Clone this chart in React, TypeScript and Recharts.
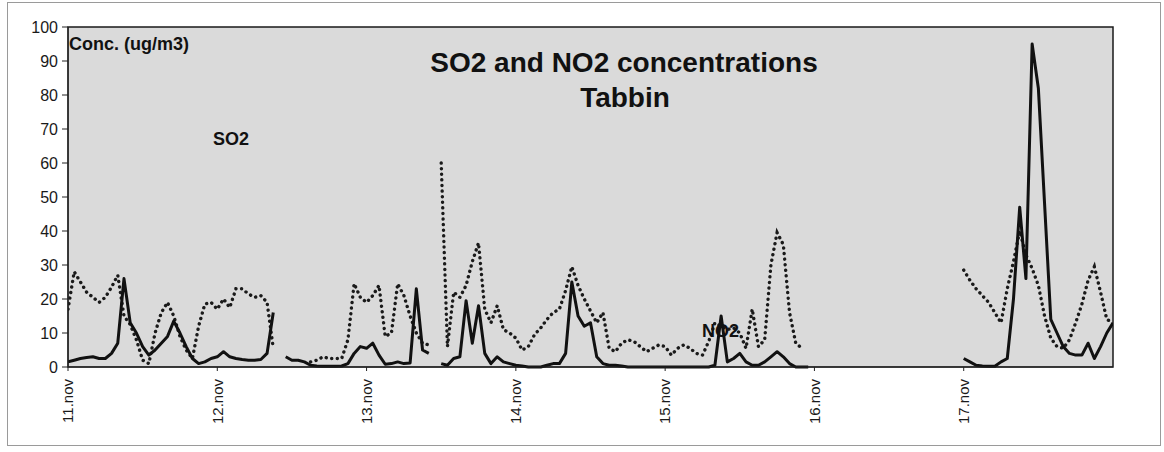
import {
  LineChart,
  Line,
  XAxis,
  YAxis,
  CartesianGrid,
  ReferenceArea,
} from "recharts";

// hourly readings, 11.nov 00:00 .. 18.nov 00:00 (null = no measurement)
const so2 = [
  1.5, 2, 2.5, 2.8, 3, 2.5, 2.5, 4, 7, 26, 13, 10, 6, 3.5, 5, 7, 9, 13.5, 10, 6, 2.5, 1, 1.5, 2.5,
  3, 4.5, 3, 2.5, 2.2, 2, 2, 2.2, 4, 16, null, 3, 2, 2, 1.5, 0.5, 0.3, 0.2, 0.2, 0.2, 0.3, 1, 4, 6,
  5.5, 7, 3.5, 0.8, 1, 1.5, 1, 1.2, 23, 5, 4, null, 1, 0.5, 2.5, 3, 19.5, 7, 18, 4, 1, 3, 1.5, 1,
  0.5, 0.3, 0, 0, 0, 0.5, 1, 1, 4, 25, 15, 12, 13, 3, 1, 0.5, 0.5, 0.3, 0, 0, 0, 0, 0, 0,
  0, 0, 0, 0, 0, 0, 0, 0, 0.5, 15, 1.5, 2.5, 4, 1.5, 0.5, 0.5, 1.5, 3, 4.5, 3, 1, 0, 0, 0,
  null, null, null, null, null, null, null, null, null, null, null, null,
  null, null, null, null, null, null, null, null, null, null, null, null,
  2.5, 1.5, 0.5, 0.3, 0.2, 0.2, 1.5, 2.5, 20, 47, 26, 95, 82, 48, 14, 10, 6, 4, 3.5, 3.5, 7, 2.5, 6, 10,
  13,
];

const no2 = [
  17, 28, 25, 22, 20.5, 19, 20.5, 23.5, 27, 15, 12.5, 8, 2, 1, 10, 16, 19, 15, 9, 5, 2.5, 12, 18.5, 19,
  17, 20, 17.5, 23, 23, 21.5, 20.5, 21, 19, 5.5, null, null, null, null, null, 1.5, 2, 3, 2.5, 2.5, 2.5, 8, 24.5, 20.5,
  19, 21, 24, 9, 10, 24.5, 21, 15, 10, 7, 6.5, null, 60, 6, 22, 20.5, 24, 31, 36.5, 17, 13, 18, 11, 10,
  8.5, 5, 6, 9.5, 11.5, 14, 16, 17, 22.5, 29.5, 24, 20, 16.5, 13, 16, 5.5, 4.5, 7, 8, 7.5, 6, 4.5, 5.5, 6.5,
  6, 3.5, 5.5, 6.5, 5.5, 4, 3.5, 7.5, 13, 12, 11, 11.5, 10, 5.5, 17, 6, 8, 30, 39.5, 36, 16, 7, 5.5, null,
  null, null, null, null, null, null, null, null, null, null, null, null,
  null, null, null, null, null, null, null, null, null, null, null, null,
  28.5, 25.5, 23, 21, 19, 16, 13, 23, 31, 40, 33, 29, 24, 15, 8.5, 6, 5.5, 8, 13, 18.5, 25.5, 29.5, 22, 14,
  13,
];

const dayLabels = ["11.nov", "12.nov", "13.nov", "14.nov", "15.nov", "16.nov", "17.nov"];
const yTicks = [0, 10, 20, 30, 40, 50, 60, 70, 80, 90, 100];

const rows = so2.map((v, i) => ({ h: i, so2: v, no2: no2[i] }));
const dayTicks = dayLabels.map((_, i) => i * 24);

const FONT = "'Liberation Sans', Arial, sans-serif";

function DayTick(props: any) {
  const { x, y, payload } = props;
  return (
    <g transform={`translate(${x},${y + 6})`}>
      <text
        transform="rotate(-90)"
        textAnchor="end"
        dy="0.35em"
        fontSize={15}
        fontFamily={FONT}
        fill="#1a1a1a"
      >
        {dayLabels[payload.value / 24]}
      </text>
    </g>
  );
}

export default function App() {
  return (
    <div
      style={{
        position: "absolute",
        left: 0,
        top: 0,
        width: 1164,
        height: 452,
        background: "#fff",
      }}
    >
      <LineChart
        width={1164}
        height={452}
        data={rows}
        margin={{ top: 27, right: 51, bottom: 25, left: 8 }}
      >
        <CartesianGrid fill="#dadada" horizontal={false} vertical={false} />
        <XAxis
          dataKey="h"
          type="number"
          domain={[0, 168]}
          ticks={dayTicks}
          interval={0}
          height={60}
          tickSize={4}
          tick={<DayTick />}
          stroke="#222"
          allowDataOverflow
        />
        <YAxis
          type="number"
          domain={[0, 100]}
          ticks={yTicks}
          interval={0}
          width={60}
          tickSize={6}
          tickMargin={4}
          stroke="#222"
          tick={{ fontSize: 16, fontFamily: FONT, fill: "#1a1a1a" }}
        />
        <ReferenceArea
          x1={0}
          x2={168}
          y1={0}
          y2={100}
          fill="none"
          fillOpacity={0}
          stroke="#1a1a1a"
          strokeWidth={1.5}
        />
        <Line
          dataKey="no2"
          stroke="#1a1a1a"
          strokeWidth={3.4}
          strokeDasharray="0.1 5.5"
          strokeLinecap="round"
          dot={false}
          isAnimationActive={false}
        />
        <Line
          dataKey="so2"
          stroke="#111"
          strokeWidth={3}
          strokeLinejoin="round"
          dot={false}
          isAnimationActive={false}
        />
      </LineChart>
      <svg
        width={1164}
        height={452}
        style={{ position: "absolute", left: 0, top: 0, pointerEvents: "none" }}
        fontFamily={FONT}
      >
        <rect x={7.5} y={2.5} width={1153} height={443} fill="none" stroke="#9a9a9a" />
        <text x={69} y={50} fontSize={18} fontWeight="bold" fill="#111">
          Conc. (ug/m3)
        </text>
        <text x={624} y={72} fontSize={28} fontWeight="bold" textAnchor="middle" fill="#111">
          SO2 and NO2 concentrations
        </text>
        <text x={625} y={107} fontSize={28} fontWeight="bold" textAnchor="middle" fill="#111">
          Tabbin
        </text>
        <text x={213} y={145} fontSize={18} fontWeight="bold" fill="#111">
          SO2
        </text>
        <text x={702} y={337} fontSize={18} fontWeight="bold" fill="#111">
          NO2
        </text>
      </svg>
    </div>
  );
}
